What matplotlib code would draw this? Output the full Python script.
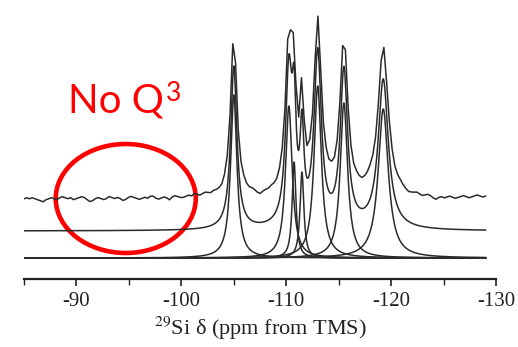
import numpy as np
import matplotlib.pyplot as plt
from matplotlib.patches import Ellipse
from matplotlib.ticker import MultipleLocator

plt.rcParams["axes.unicode_minus"] = False
plt.rcParams["mathtext.fontset"] = "stix"

# deconvoluted 29Si components (ppm, height, half width at half max)
SHIFT = [-105.0, -110.25, -110.75, -111.5, -113.0, -115.5, -119.25]
HEIGHT = [163, 152, 96, 86, 172, 155, 149]
HWHM = [0.36, 0.38, 0.22, 0.22, 0.42, 0.42, 0.58]

TICKS = [-90, -100, -110, -120, -130]

# noise, one value per 0.25 ppm from -85 to -129
NOISE = [
    0, 1, 0, 1, 0, -1, -2, -3, -1, 0, 1, 0, -1, 1, 2, 1, 0, 1, -1, 0,
    1, 2, 1, -1, -3, -2, 0, 1, 0, -1, 0, 2, 1, 0, 1, 0, -2, -1, 1, 2,
    1, 0, -1, 0, 1, 0, 2, 2, 0, -1, 0, 1, 0, -2, 1, 2, 1, 0, 0, 1,
    2, 1, 3, 2, 1, 2, 3, 2, 1, 2, 1, 0, -1, 0, 1, 0, 1, 0, -1, 0,
    1, 0, 0, 1, 0, -2, -3, -1, 0, 0, 1, 0, -1, 0, 1, 0, 0, 1, 0, 0,
    1, 2, 1, 0, 1, 0, -1, 0, 1, 0, 1, 0, 0, -1, 0, 1, 0, 1, 2, 1,
    0, 1, 0, -1, 0, 1, 2, 1, 0, 1, 2, 1, 0, 1, 0, -1, 0, 1, 0, -1,
    -2, -1, 0, 1, 0, -1, 0, 1, 0, -2, -3, -1, 0, -1, 0, 1, 0, -1, 0, 1,
    2, 1, 0, 1, 2, 3, 2, 1, 2,
]

# vertical offsets of the three stacked traces
BASE_COMP = 21
BASE_FIT = 48
BASE_EXP = 80


def lorentz(x, x0, h, g):
    return h * g**2 / (g**2 + (x - x0) ** 2)


ppm_fit = np.linspace(-85, -129, 1761)
ppm_exp = np.linspace(-85, -129, len(NOISE))

comps = [lorentz(ppm_fit, s, h, g) for s, h, g in zip(SHIFT, HEIGHT, HWHM)]
fit = np.sum(comps, axis=0)
exp = np.sum([lorentz(ppm_exp, s, h, g) for s, h, g in zip(SHIFT, HEIGHT, HWHM)], axis=0)
exp = exp + np.array(NOISE)

W, H = 518, 347
fig = plt.figure(figsize=(W / 100, H / 100), dpi=100)
ax = fig.add_axes([24 / W, 68 / H, 472 / W, 279 / H])

col = "#2b2b2b"
for c in comps:
    ax.plot(ppm_fit, c + BASE_COMP, color=col, lw=1.1)
ax.plot(ppm_fit, fit + BASE_FIT, color=col, lw=1.1)
ax.plot(ppm_exp, exp + BASE_EXP, color=col, lw=1.1)

ax.set_xlim(-85, -130)
ax.set_ylim(0, 279)
for s in ["left", "right", "top"]:
    ax.spines[s].set_visible(False)
ax.spines["bottom"].set_linewidth(1.6)
ax.spines["bottom"].set_color("#222222")
ax.set_yticks([])
ax.set_xticks(TICKS)
ax.xaxis.set_minor_locator(MultipleLocator(5))
ax.tick_params(axis="x", which="major", length=5, width=1.2, pad=4, colors="#222222")
ax.tick_params(axis="x", which="minor", length=4, width=1.0, colors="#222222")
for lab in ax.get_xticklabels():
    lab.set_fontfamily("Liberation Serif")
    lab.set_fontsize(15)
ax.set_xlabel(r"$^{29}$Si δ (ppm from TMS)", fontfamily="Liberation Serif",
              fontsize=16, labelpad=3, color="#222222")

# annotation
ax.add_patch(Ellipse((-94.7, 80.5), width=13.35, height=109, fill=False,
                     ec="#ff0000", lw=3.3, clip_on=False))
fig.text(68 / W, 1 - 113 / H, "No Q", color="#ff0000", fontsize=29,
         fontfamily="Lato", va="baseline")
fig.text(166 / W, 1 - 101 / H, "3", color="#ff0000", fontsize=19,
         fontfamily="Lato", va="baseline")

fig.savefig("out.png", dpi=100)
